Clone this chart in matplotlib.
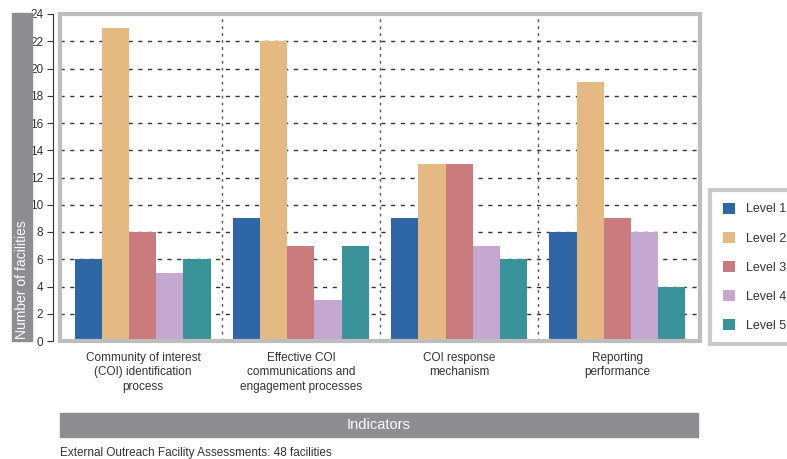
import numpy as np
import matplotlib.pyplot as plt
from matplotlib.patches import Rectangle, Patch

plt.rcParams['font.family'] = ['Liberation Sans Narrow', 'Liberation Sans', 'DejaVu Sans']

indicators = ["Community of interest\n(COI) identification\nprocess",
              "Effective COI\ncommunications and\nengagement processes",
              "COI response\nmechanism",
              "Reporting\nperformance"]
levels = ["Level 1", "Level 2", "Level 3", "Level 4", "Level 5"]
level1 = [6, 9, 9, 8]
level2 = [23, 22, 13, 19]
level3 = [8, 7, 13, 9]
level4 = [5, 3, 7, 8]
level5 = [6, 7, 6, 4]
colors = ["#2E66A6", "#E5BA82", "#C97B7E", "#C5A8D0", "#3A9399"]

fig = plt.figure(figsize=(7.87, 4.59), dpi=100)
ax = fig.add_axes([60/787, 1 - 341/459, 640/787, 327/459])

x = np.arange(len(indicators))
w = 0.171
for i, vals in enumerate([level1, level2, level3, level4, level5]):
    ax.bar(x + (i - 2) * w, vals, w, color=colors[i], zorder=2, label=levels[i])

ax.set_xlim(-0.525, 3.525)
ax.set_ylim(0, 24)
ax.set_yticks(range(0, 25, 2))
ax.tick_params(axis='y', labelsize=8.5, colors='#333333', length=4, pad=3)
ax.set_xticks(x)
ax.set_xticklabels(indicators, fontsize=8.5, color='#333333', linespacing=1.25)
ax.tick_params(axis='x', length=0, pad=8)

for g in range(2, 24, 2):
    ax.axhline(g, color='#333333', lw=1, ls=(0, (3, 4)), zorder=1)
for d in [0.5, 1.5, 2.5]:
    ax.axvline(d, color='#555555', lw=1, ls=(0, (2, 3)), zorder=1)

for s in ['top', 'right', 'bottom']:
    ax.spines[s].set_visible(False)
ax.spines['left'].set_position(('outward', 5))
ax.spines['left'].set_color('#333333')
ax.add_patch(Rectangle((0, 0), 1, 1, transform=ax.transAxes, fill=False,
                       edgecolor='#BDBDBD', lw=3, clip_on=False, zorder=5))

# y label band
fig.patches.append(Rectangle((12/787, 1 - 341/459), 20/787, 328/459,
                             transform=fig.transFigure, color='#8E8E92', zorder=0))
fig.text(22/787, 1 - 339/459, "Number of facilities", rotation=90, color='white',
         fontsize=10, ha='center', va='bottom')

# indicators band
fig.patches.append(Rectangle((60/787, 1 - 437/459), 638/787, 24/459,
                             transform=fig.transFigure, color='#8E8E92', zorder=0))
fig.text(379/787, 1 - 425/459, "Indicators", color='white', fontsize=10.5,
         ha='center', va='center')

fig.text(60/787, 1 - 453/459, "External Outreach Facility Assessments: 48 facilities",
         color='#333333', fontsize=8.5, ha='left', va='center')

handles = [Patch(facecolor=c) for c in colors]
leg = fig.legend(handles, levels, loc='upper left',
                 bbox_to_anchor=(710/787, 1 - 190/459), fontsize=9,
                 handlelength=1.0, handleheight=1.0, labelspacing=1.3,
                 handletextpad=0.9, borderpad=1.0, borderaxespad=0,
                 fancybox=False)
leg.get_frame().set_edgecolor('#BDBDBD')
leg.get_frame().set_linewidth(3)
for t in leg.get_texts():
    t.set_color('#333333')

fig.savefig("out.png", dpi=100)
